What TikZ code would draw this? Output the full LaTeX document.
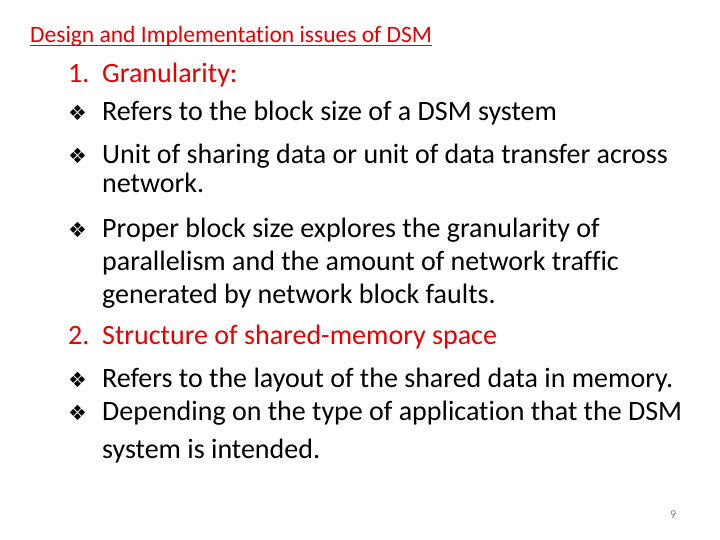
\documentclass[tikz,border=0pt]{standalone}
\usepackage{fontspec}
\setmainfont{Carlito}[Ligatures=NoCommon]
\newfontfamily\symfont{DejaVu Sans}
\definecolor{slidered}{RGB}{230,0,0}
\tikzset{
  ln/.style={anchor=base west, inner sep=0pt, font=\fontsize{28}{32}\selectfont},
  bul/.style={anchor=base west, inner sep=0pt, font=\symfont\fontsize{21}{24}\selectfont},
}
\begin{document}
\begin{tikzpicture}[x=1pt,y=-1pt]
\useasboundingbox (0,0) rectangle (720,540);
\node[anchor=base west, inner sep=0pt, text=slidered, font=\fontsize{23.5}{26}\selectfont] (title) at (30,43) {Design and Implementation issues of DSM};
\draw[slidered, line width=1pt] ([yshift=-3pt]title.base west) -- ([yshift=-3pt]title.base east);
\node[ln, text=slidered] (n1) at (68,83) {1.};
\node[ln, text=slidered] (g) at (102,83) {Granularity:};
\node[bul] (b1) at (68,121) {❖};
\node[ln] (t1) at (102,121) {Refers to the block size of a DSM system};
\node[bul] (b2) at (68,164) {❖};
\node[ln] (t2) at (102,164) {Unit of sharing data or unit of data transfer across};
\node[ln] (t2b) at (102,193) {network.};
\node[bul] (b3) at (68,237) {❖};
\node[ln] (t3) at (102,237) {Proper block size explores the granularity of};
\node[ln] (t3b) at (102,270) {parallelism and the amount of network traffic};
\node[ln] (t3c) at (102,303) {generated by network block faults.};
\node[ln, text=slidered] (n2) at (68,344) {2.};
\node[ln, text=slidered] (s) at (102,344) {Structure of shared-memory space};
\node[bul] (b4) at (68,387) {❖};
\node[ln] (t4) at (102,387) {Refers to the layout of the shared data in memory.};
\node[bul] (b5) at (68,420) {❖};
\node[ln] (t5) at (102,420) {Depending on the type of application that the DSM};
\node[ln] (t5b) at (102,458) {system is intended.};
\node[anchor=base west, inner sep=0pt, text=gray, font=\fontsize{12}{14}\selectfont] (pg) at (670,518) {9};
\end{tikzpicture}
\end{document}
